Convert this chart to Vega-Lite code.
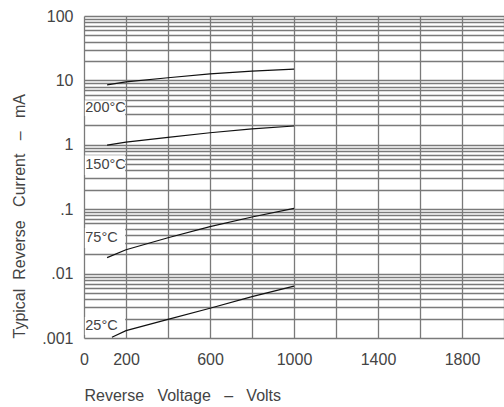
{
  "$schema": "https://vega.github.io/schema/vega-lite/v6.json",
  "width": 420,
  "height": 322,
  "autosize": {"type": "none"},
  "padding": {"left": 84, "top": 16, "right": 0, "bottom": 69},
  "background": "white",
  "config": {
    "view": {"stroke": null},
    "font": "Liberation Sans",
    "axis": {
      "labelFont": "Liberation Sans",
      "titleFont": "Liberation Sans",
      "labelFontSize": 16,
      "titleFontSize": 16,
      "titleFontWeight": "normal",
      "labelColor": "#444",
      "titleColor": "#444",
      "grid": true,
      "gridColor": "#7a7a7a",
      "gridOpacity": 1,
      "gridWidth": 1.3,
      "domain": false,
      "ticks": false,
      "labelOverlap": false,
      "labelBound": false,
      "labelFlush": false
    }
  },
  "datasets": {
    "curves": [
      {"temp": "200°C", "V": 110, "I": 8.5},
      {"temp": "200°C", "V": 200, "I": 9.5},
      {"temp": "200°C", "V": 400, "I": 11.0},
      {"temp": "200°C", "V": 600, "I": 12.6},
      {"temp": "200°C", "V": 800, "I": 13.9},
      {"temp": "200°C", "V": 1000, "I": 15.0},
      {"temp": "150°C", "V": 110, "I": 0.99},
      {"temp": "150°C", "V": 200, "I": 1.1},
      {"temp": "150°C", "V": 400, "I": 1.3},
      {"temp": "150°C", "V": 600, "I": 1.54},
      {"temp": "150°C", "V": 800, "I": 1.77},
      {"temp": "150°C", "V": 1000, "I": 1.96},
      {"temp": "75°C", "V": 110, "I": 0.0177},
      {"temp": "75°C", "V": 200, "I": 0.0235},
      {"temp": "75°C", "V": 400, "I": 0.036},
      {"temp": "75°C", "V": 600, "I": 0.0535},
      {"temp": "75°C", "V": 800, "I": 0.0757},
      {"temp": "75°C", "V": 1000, "I": 0.103},
      {"temp": "25°C", "V": 133, "I": 0.00103},
      {"temp": "25°C", "V": 200, "I": 0.0013},
      {"temp": "25°C", "V": 400, "I": 0.00195},
      {"temp": "25°C", "V": 600, "I": 0.0029},
      {"temp": "25°C", "V": 800, "I": 0.0044},
      {"temp": "25°C", "V": 1000, "I": 0.0064}
    ],
    "labels": [
      {"text": "200°C", "V": 6, "I": 3.7, "top": 4.9, "bottom": 2.8},
      {"text": "150°C", "V": 6, "I": 0.485, "top": 0.69, "bottom": 0.34},
      {"text": "75°C", "V": 6, "I": 0.0353, "top": 0.051, "bottom": 0.025},
      {"text": "25°C", "V": 6, "I": 0.00153, "top": 0.00212, "bottom": 0.00111}
    ]
  },
  "encoding": {
    "x": {
      "type": "quantitative",
      "scale": {"domain": [0, 2000], "nice": false, "zero": false},
      "axis": {
        "title": "Reverse\u00a0\u00a0\u00a0Voltage\u00a0\u00a0\u00a0–\u00a0\u00a0\u00a0Volts",
        "titleAnchor": "start",
        "titleAlign": "left",
        "titlePadding": 20,
        "labelPadding": 13,
        "grid": true,
        "values": [0, 200, 400, 600, 800, 1000, 1200, 1400, 1600, 1800, 2000],
        "labelExpr": "indexof([0,200,600,1000,1400,1800], datum.value) >= 0 ? datum.label : ''",
        "format": "d"
      }
    },
    "y": {
      "type": "quantitative",
      "scale": {"type": "log", "domain": [0.001, 100], "nice": false},
      "axis": {
        "title": "Typical\u00a0\u00a0Reverse\u00a0\u00a0\u00a0Current\u00a0\u00a0\u00a0–\u00a0\u00a0\u00a0mA",
        "titleAnchor": "start",
        "titlePadding": 14,
        "labelPadding": 11,
        "grid": true,
        "values": [0.001, 0.002, 0.003, 0.004, 0.005, 0.006, 0.007, 0.008, 0.009,
                   0.01, 0.02, 0.03, 0.04, 0.05, 0.06, 0.07, 0.08, 0.09,
                   0.1, 0.2, 0.3, 0.4, 0.5, 0.6, 0.7, 0.8, 0.9,
                   1, 2, 3, 4, 5, 6, 7, 8, 9,
                   10, 20, 30, 40, 50, 60, 70, 80, 90, 100],
        "labelExpr": "datum.value == 100 ? '100' : datum.value == 10 ? '10' : datum.value == 1 ? '1' : datum.value == 0.1 ? '.1' : datum.value == 0.01 ? '.01' : datum.value == 0.001 ? '.001' : ''"
      }
    }
  },
  "layer": [
    {
      "data": {"name": "labels"},
      "mark": {"type": "rect", "fill": "white", "stroke": null},
      "encoding": {
        "x": {"datum": 4, "type": "quantitative"},
        "x2": {"datum": 196},
        "y": {"field": "top", "type": "quantitative"},
        "y2": {"field": "bottom"}
      }
    },
    {
      "data": {"name": "curves"},
      "mark": {"type": "line", "color": "#111", "strokeWidth": 1.2},
      "encoding": {
        "x": {"field": "V", "type": "quantitative"},
        "y": {"field": "I", "type": "quantitative"},
        "detail": {"field": "temp"}
      }
    },
    {
      "data": {"name": "labels"},
      "mark": {"type": "text", "align": "left", "baseline": "middle", "font": "Liberation Sans", "fontSize": 14.5, "color": "#444"},
      "encoding": {
        "x": {"field": "V", "type": "quantitative"},
        "y": {"field": "I", "type": "quantitative"},
        "text": {"field": "text"}
      }
    }
  ]
}
